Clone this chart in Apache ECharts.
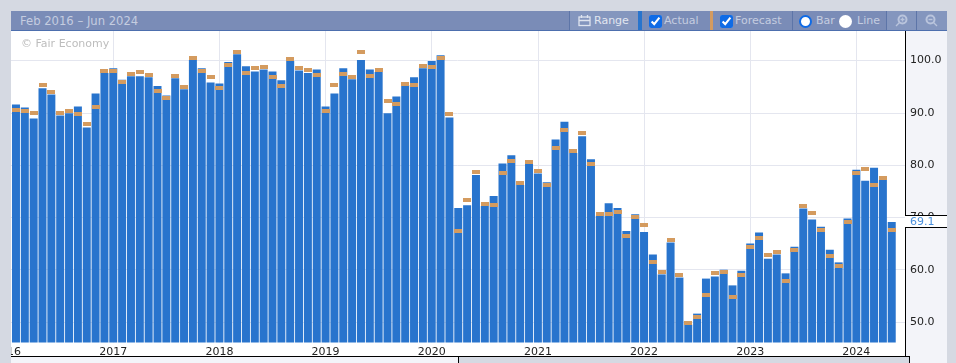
<!DOCTYPE html>
<html lang="en">
<head>
<meta charset="UTF-8">
<title>Feb 2016 – Jun 2024</title>
<script src="https://cdn.jsdelivr.net/npm/echarts@6/dist/echarts.min.js"></script>
<style>
    html, body { margin: 0; padding: 0; width: 956px; height: 363px; overflow: hidden; background: #d5d9e2; font-family: 'DejaVu Sans', sans-serif; }
    .abs { position: absolute; }
    #header { left: 11px; top: 11px; width: 936px; height: 19px; background: #7a8cb7; border-bottom: 1px solid #4d6fae; }
    .txt { color: #c5cde0; font-size: 11px; line-height: 20px; top: 11px; white-space: nowrap; }
    .tile { top: 11px; height: 19px; background: #8496be; }
    .sep { top: 11px; width: 1px; height: 19px; background: #5d75a8; }
    #plotbg { left: 11px; top: 31px; width: 894px; height: 325px; background: #fff; border-right: 1px solid #000; border-bottom: 1px solid #000; }
    #sidebg { left: 906px; top: 31px; width: 41px; height: 332px; background: #f3f4f9; }
    #footl { left: 11px; top: 357px; width: 447px; height: 6px; background: #f3f4f9; border-right: 1px solid #000; }
    #footr { left: 459px; top: 357px; width: 450px; height: 6px; background: #d5d9e2; border-right: 1px solid #000; }
    #footline { left: 905px; top: 356px; width: 5px; height: 1px; background: #000; }
    #chart { left: 11px; top: 31px; width: 936px; height: 332px; }
    input { position: absolute; margin: 0; width: 13px; height: 13px; accent-color: #0f6be6; top: 15px; }
    .radio { top: 15px; width: 13px; height: 13px; border-radius: 50%; background: #fff; box-sizing: border-box; }
    .on { border: 2.5px solid #0f6be6; }
</style>
</head>
<body>
<div class="abs" id="plotbg"></div>
<div class="abs" id="sidebg"></div>
<div class="abs" id="footl"></div>
<div class="abs" id="footr"></div>
<div class="abs" id="footline"></div>
<div class="abs" id="chart"></div>

<div class="abs" id="header"></div>
<div class="abs tile" style="left:570px;width:68px"></div>
<div class="abs tile" style="left:887px;width:29px"></div>
<div class="abs tile" style="left:917px;width:30px"></div>
<div class="abs sep" style="left:569px"></div>
<div class="abs sep" style="left:792px"></div>
<div class="abs sep" style="left:886px"></div>
<div class="abs sep" style="left:916px"></div>
<div class="abs" style="left:638px;top:11px;width:4px;height:19px;background:#2874cd"></div>
<div class="abs" style="left:710px;top:11px;width:3px;height:19px;background:#d49b5f"></div>

<div class="abs txt" style="left:20px;font-size:11.6px">Feb 2016 – Jun 2024</div>
<svg class="abs" style="left:578px;top:14px" width="13" height="13" viewBox="0 0 13 13" fill="none" stroke="#dfe4ef" stroke-width="1.3">
    <rect x="1" y="3" width="11" height="8.5"/><path d="M1 6.5h11M3.5 1v3M9.5 1v3"/>
</svg>
<div class="abs txt" style="left:594px;color:#e2e6f0">Range</div>
<input type="checkbox" checked style="left:649px">
<div class="abs txt" style="left:664px">Actual</div>
<input type="checkbox" checked style="left:720px">
<div class="abs txt" style="left:735px">Forecast</div>
<div class="abs radio on" style="left:799px"></div>
<div class="abs txt" style="left:816px">Bar</div>
<div class="abs radio" style="left:839px"></div>
<div class="abs txt" style="left:857px">Line</div>
<svg class="abs" style="left:895px;top:14px" width="13" height="13" viewBox="0 0 13 13" fill="none" stroke="#b9c4dc" stroke-width="2">
    <circle cx="7.5" cy="5.5" r="4"/><path d="M4.5 8.5L1 12M5.5 5.5h4M7.5 3.5v4" stroke-width="1.4"/>
</svg>
<svg class="abs" style="left:925px;top:14px" width="13" height="13" viewBox="0 0 13 13" fill="none" stroke="#b9c4dc" stroke-width="2">
    <circle cx="5.5" cy="5.5" r="4"/><path d="M8.5 8.5L12 12M3.5 5.5h4" stroke-width="1.4"/>
</svg>

<script>
// first and last month have no bar, they only pad the axis
var years = [2016, 2017, 2018, 2019, 2020, 2021, 2022, 2023, 2024];
var monthNames = ['Jan','Feb','Mar','Apr','May','Jun','Jul','Aug','Sep','Oct','Nov','Dec'];
var categories = [];
years.forEach(function (y) {
    monthNames.forEach(function (m, i) {
        if (y < 2024 || i < 6) categories.push(m + ' ' + y);
    });
});

var actual = [null,
    91.6,91.0,88.9,94.7,93.5,89.5,89.9,91.2,87.2,93.7,97.6,
    98.5,96.3,97.0,97.0,96.8,95.1,93.3,96.6,94.5,100.1,98.5,95.8,
    95.6,99.7,101.2,98.9,97.9,98.3,97.9,96.2,99.9,98.1,97.6,98.3,
    91.2,93.7,98.5,96.4,100.1,98.3,97.8,89.9,93.1,95.3,96.8,98.5,
    99.9,101.0,89.1,71.8,72.3,78.1,72.2,74.1,80.3,81.9,76.2,80.2,
    78.4,76.7,84.9,88.3,82.3,85.5,81.1,70.3,72.7,71.8,67.4,70.6,
    67.2,62.9,59.1,65.2,58.5,49.5,51.6,58.3,58.7,60.0,57.0,59.8,
    65.0,67.1,62.1,62.9,59.3,64.4,71.7,69.6,68.2,63.8,61.4,69.8,
    79.1,77.0,79.5,77.2,69.1,
    null];
var forecast = [null,
    90.6,90.3,89.9,95.3,93.9,89.9,90.3,89.7,87.8,91.2,97.9,
    97.9,95.8,97.4,97.8,97.2,94.1,92.8,97.0,94.9,100.5,97.9,96.8,
    94.7,99.1,101.6,97.6,98.5,98.7,96.8,95.1,100.3,98.5,98.1,97.2,
    90.4,95.4,97.4,96.8,101.6,97.0,98.1,92.2,91.6,95.6,95.4,98.9,
    98.7,100.4,89.7,67.4,73.3,78.6,72.5,72.3,78.4,80.7,76.5,80.5,
    78.8,76.2,83.2,86.8,82.6,86.1,80.3,70.6,70.6,71.0,66.4,70.1,
    68.5,61.4,59.5,65.6,58.9,49.9,50.9,55.1,59.3,59.5,54.7,58.9,
    64.4,66.1,62.9,63.3,57.9,63.7,72.2,70.9,67.5,62.7,60.8,69.2,
    78.5,79.3,76.2,77.6,67.5,
    null];
var yTicks = [50, 60, 70, 80, 90, 100];
var lastValue = 69.1;

function isJanuary(i) { return categories[i].indexOf('Jan') === 0; }

// forecast mark: 4px tall dash snapped to whole pixels so it stays sharp
function renderForecast(params, api) {
    var y = api.value(1);
    if (isNaN(y)) return null;
    var p = api.coord([api.value(0), y]);
    return {
        type: 'rect',
        shape: { x: Math.round(p[0] - 4), y: Math.round(p[1] - 2), width: 8, height: 4 },
        style: { fill: '#d49b5f' }
    };
}

var gridColor = '#e4e6ef';
var chart = echarts.init(document.getElementById('chart'), null, { renderer: 'canvas' });
chart.setOption({
    animation: false,
    backgroundColor: 'transparent',
    // labels may run past the canvas edge, the 2016 one is cut off on purpose
    grid: { left: -8.3, right: 42, top: 0, bottom: 20.5, containLabel: false, outerBoundsMode: 'none' },
    xAxis: {
        type: 'category',
        data: categories,
        boundaryGap: true,
        axisLine: { show: false },
        axisTick: { show: false, alignWithLabel: true, interval: isJanuary },
        axisLabel: {
            interval: isJanuary,
            margin: 4,
            fontFamily: 'DejaVu Sans',
            fontSize: 11,
            color: '#222',
            hideOverlap: false,
            formatter: function (v) { return v.split(' ')[1]; }
        },
        splitLine: { show: true, alignWithLabel: true, interval: isJanuary, lineStyle: { color: gridColor, width: 1 } }
    },
    yAxis: {
        type: 'value',
        position: 'right',
        min: 46.08,
        max: 105.64,
        axisLine: { show: false },
        axisTick: { show: false, customValues: yTicks },
        axisLabel: {
            customValues: yTicks,
            margin: 5,
            fontFamily: 'DejaVu Sans',
            fontSize: 11,
            color: '#222',
            formatter: function (v) { return v.toFixed(1); }
        },
        splitLine: { show: true, lineStyle: { color: gridColor, width: 1 } }
    },
    series: [
        { name: 'Actual', type: 'bar', data: actual, barWidth: 8, itemStyle: { color: '#2874cd' }, z: 2 },
        {
            name: 'Forecast',
            type: 'custom',
            renderItem: renderForecast,
            encode: { x: 0, y: 1 },
            data: forecast.map(function (v, i) { return [i, v]; }),
            z: 3
        }
    ]
});

// current value tag on the price axis
var tagY = chart.convertToPixel({ yAxisIndex: 0 }, lastValue);
chart.setOption({
    graphic: [
        { type: 'rect', z: 20, shape: { x: 894, y: Math.round(tagY) - 6, width: 42, height: 11 }, style: { fill: '#fff' } },
        { type: 'rect', z: 21, shape: { x: 894, y: Math.round(tagY) - 7, width: 42, height: 1 }, style: { fill: '#000' } },
        { type: 'rect', z: 21, shape: { x: 894, y: Math.round(tagY) + 5, width: 42, height: 1 }, style: { fill: '#000' } },
        { type: 'text', z: 22, x: 899, y: Math.round(tagY) - 5, style: { text: lastValue.toFixed(1), fill: '#4a8fdc', font: '11px "DejaVu Sans"' } },
        { type: 'text', z: 22, x: 10, y: 8, style: { text: '© Fair Economy', fill: '#bdbdbd', font: '11px "DejaVu Sans"' } }
    ]
});
</script>
</body>
</html>
